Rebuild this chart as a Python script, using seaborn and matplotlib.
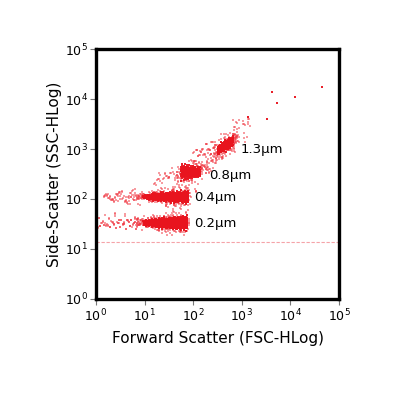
import numpy as np
import pandas as pd
import matplotlib
matplotlib.use("Agg")
import matplotlib.pyplot as plt
import seaborn as sns

# ---- data (log10 units of the channels) ----
bead_labels = ["0.2µm", "0.4µm", "0.8µm", "1.3µm"]
# dense core of each bead population
core_x_lo = [0.95, 0.95, 1.75, 2.50]
core_x_hi = [1.88, 1.90, 2.15, 2.82]
core_y = [1.52, 2.04, 2.55, 3.07]
core_y_sd = [0.045, 0.04, 0.05, 0.045]
core_slope = [0.0, 0.0, -0.05, 0.55]
core_n = [1400, 1200, 550, 330]
# diffuse halo around each population
halo_x = [1.45, 1.50, 1.98, 2.72]
halo_x_sd = [0.35, 0.35, 0.16, 0.18]
halo_y_sd = [0.10, 0.085, 0.09, 0.10]
halo_slope = [0.0, 0.0, 0.3, 0.8]
halo_n = [420, 360, 150, 150]
# left tails (dim events)
tail_x_lo = [0.0, 0.15, 1.2, 2.0]
tail_x_hi = [1.0, 1.0, 1.75, 2.5]
tail_n = [90, 75, 35, 40]
# sparse diagonal band joining the populations
bridge_x = [1.55, 3.1]
bridge_y = [1.85, 3.6]
bridge_n = 130
# label positions
label_x = [2.02, 2.02, 2.32, 2.97]
label_y = [1.52, 2.02, 2.48, 3.0]
# few isolated events at high scatter
outlier_x = [3.13, 3.52, 3.62, 3.72, 4.10, 4.65]
outlier_y = [3.64, 3.60, 4.14, 3.92, 4.04, 4.24]
threshold_y = 14
decades = [0, 1, 2, 3, 4, 5]

_primes = [2, 3, 5, 7, 11, 13, 17, 19, 23, 29, 31, 37, 41, 43, 47, 53, 59, 61, 67, 71,
           73, 79, 83, 89, 97, 101, 103, 107, 109, 113, 127, 131, 137, 139, 149, 151,
           157, 163, 167, 173, 179, 181, 191, 193, 197, 199]
_dim = [0]


def seq(n):
    """low-discrepancy (Kronecker) sequence, a fresh dimension each call"""
    a = np.sqrt(_primes[_dim[0] % len(_primes)])
    _dim[0] += 1
    return np.mod(0.5 + np.arange(1, n + 1) * a, 1.0)


def gauss(n):
    u1 = np.clip(seq(n), 0.004, 1)
    u2 = seq(n)
    return np.clip(np.sqrt(-2 * np.log(u1)) * np.cos(2 * np.pi * u2), -3, 3)


rows = []
for i in range(len(bead_labels)):
    n = core_n[i]
    u = seq(n) ** (0.55 if i < 2 else 0.9)
    xs = core_x_lo[i] + (core_x_hi[i] - core_x_lo[i]) * u
    wid = (0.6 + 0.6 * u) if i < 2 else (1.3 - 0.6 * u if i == 2 else 1.0)
    ys = core_y[i] + core_slope[i] * (xs - (core_x_lo[i] + core_x_hi[i]) / 2) + core_y_sd[i] * wid * gauss(n)
    rows += [(x, y, "core") for x, y in zip(xs, ys)]
    n = halo_n[i]
    xs = halo_x[i] + halo_x_sd[i] * gauss(n)
    spread = halo_y_sd[i] * (0.5 + 0.9 * np.clip(xs - 1.0, 0, 1.0)) if i < 2 else halo_y_sd[i]
    ys = core_y[i] + halo_slope[i] * (xs - halo_x[i]) + spread * gauss(n)
    keep = xs < core_x_hi[i] + 0.05 if i < 2 else np.ones(n, bool)
    rows += [(x, y, "halo") for x, y in zip(xs[keep], ys[keep])]
    n = tail_n[i]
    xs = tail_x_lo[i] + (tail_x_hi[i] - tail_x_lo[i]) * seq(n)
    ys = core_y[i] + 0.07 * gauss(n) + (0.35 if i >= 2 else 0) * (xs - tail_x_hi[i])
    rows += [(x, y, "halo") for x, y in zip(xs, ys)]
t = seq(bridge_n)
xs = bridge_x[0] + (bridge_x[1] - bridge_x[0]) * t + 0.12 * gauss(bridge_n)
ys = bridge_y[0] + (bridge_y[1] - bridge_y[0]) * t + 0.10 * gauss(bridge_n)
rows += [(x, y, "halo") for x, y in zip(xs, ys)]
rows += [(x, y, "core") for x, y in zip(outlier_x, outlier_y)]

df = pd.DataFrame(rows, columns=["lx", "ly", "kind"])
df["FSC"] = 10 ** df["lx"]
df["SSC"] = 10 ** df["ly"]
df = df[(df.lx > 0.02) & (df.ly > 1.18)]

sns.set_theme(style="white")
plt.rcParams["font.family"] = ["DejaVu Sans"]
plt.rcParams["text.color"] = "black"
plt.rcParams["axes.labelcolor"] = "black"
plt.rcParams["xtick.color"] = "black"
plt.rcParams["ytick.color"] = "black"

fig = plt.figure(figsize=(3.97, 3.96), dpi=100)
ax = fig.add_axes([96 / 397, 97 / 396, 243 / 397, 250 / 396])

sns.scatterplot(data=df[df.kind == "halo"], x="FSC", y="SSC", ax=ax, s=0.6, marker="s",
                linewidth=0, color="#f03a44", alpha=0.5, legend=False)
sns.scatterplot(data=df[df.kind == "core"], x="FSC", y="SSC", ax=ax, s=0.7, marker="s",
                linewidth=0, color="#e8141e", alpha=0.95, legend=False)
ax.axhline(threshold_y, color="#f5a3a8", lw=0.8, ls=(0, (3, 1.5)))

ax.set_xscale("log")
ax.set_yscale("log")
ax.set_xlim(1, 1e5)
ax.set_ylim(1, 1e5)
ax.set_xticks([10 ** d for d in decades])
ax.set_yticks([10 ** d for d in decades])
ax.set_xticklabels([f"$10^{{{d}}}$" for d in decades])
ax.set_yticklabels([f"$10^{{{d}}}$" for d in decades])
ax.minorticks_off()
ax.tick_params(axis="both", which="major", direction="out", length=4, width=0.8,
               color="#777777", labelsize=9, pad=2, bottom=True, left=True)
for s in ax.spines.values():
    s.set_linewidth(2.4)
    s.set_color("black")

for lab, x, y in zip(bead_labels, label_x, label_y):
    ax.text(10 ** x, 10 ** y, lab, fontsize=9.5, va="center", ha="left")

ax.set_xlabel("Forward Scatter (FSC-HLog)", fontsize=11, labelpad=5)
ax.set_ylabel("Side-Scatter (SSC-HLog)", fontsize=11, labelpad=2)

fig.savefig("out.png", dpi=100)
